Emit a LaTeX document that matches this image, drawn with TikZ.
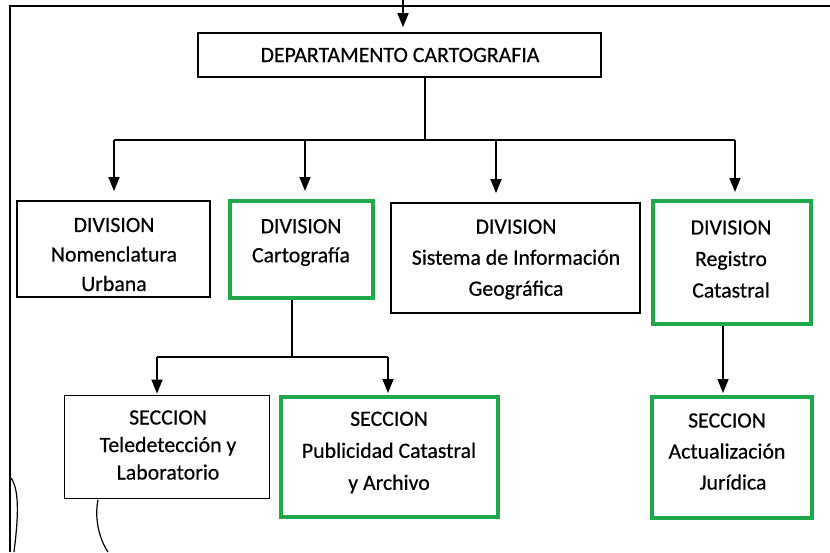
\documentclass[tikz,border=0pt]{standalone}
\usepackage{fontspec}
\setmainfont{Carlito}[FakeBold=0.5]
\usetikzlibrary{arrows.meta}
\definecolor{boxgreen}{RGB}{30,170,75}
\tikzset{
  gbox/.style={draw=boxgreen, line width=4pt, inner sep=0pt},
  bbox/.style={draw=black, line width=1.7pt, inner sep=0pt},
  txt/.style={align=center, font=\fontsize{21.8}{#1}\selectfont, inner sep=0pt},
  txt/.default=30.5,
  conn/.style={line width=1.5pt, -{Triangle[length=14pt,width=11pt]}},
  line/.style={line width=1.5pt},
  frame/.style={line width=1.5pt},
  scrib/.style={line width=1.2pt}
}
\begin{document}
\begin{tikzpicture}[x=1pt,y=-1pt]
\useasboundingbox (0,0) rectangle (830,552);
% frame
\draw[frame] (830,6) -- (10,6) -- (10,552);
\draw[scrib] (11,478) .. controls (20,490) and (18,520) .. (14,552);
\draw[scrib] (98,500) .. controls (94,520) and (100,540) .. (108,552);
% boxes
\node[bbox, minimum width=403pt, minimum height=44pt] (dep) at (399.5,55) {};
\node[txt] (depT) at (400,55) {DEPARTAMENTO CARTOGRAFIA};

\node[bbox, minimum width=193pt, minimum height=96pt] (nom) at (113.5,249) {};
\node[txt=29.5] (nomT) at (114,254.5) {DIVISION\\Nomenclatura\\Urbana};

\node[gbox, minimum width=143pt, minimum height=97pt] (car) at (301.5,249.5) {};
\node[txt=29] (carT) at (301,242.5) {DIVISION\\Cartografía};

\node[bbox, minimum width=249pt, minimum height=110pt] (sis) at (515.5,258) {};
\node[txt=31] (sisT) at (516,259.5) {DIVISION\\Sistema de Información\\Geográfica};

\node[gbox, minimum width=158pt, minimum height=123pt] (reg) at (732,262.5) {};
\node[txt=31.5] (regT) at (731,259) {DIVISION\\Registro\\Catastral};

\node[bbox, minimum width=205pt, minimum height=103pt] (tel) at (167,447) {};
\node[txt=27.5] (telT) at (168,445) {SECCION\\Teledetección y\\Laboratorio};

\node[gbox, minimum width=217pt, minimum height=120pt] (pub) at (389.5,457) {};
\node[txt=32] (pubT) at (389,452.5) {SECCION\\Publicidad Catastral\\y Archivo};

\node[gbox, minimum width=160pt, minimum height=121pt] (act) at (732,457.5) {};
\node[txt=31] (actT) at (727,451.5) {SECCION\\Actualización\\\hspace*{12pt}Jurídica};

% junction coordinates
\coordinate (topin) at (403,0);
\coordinate (h1) at (425,140);
\coordinate (j1) at (114,140);
\coordinate (j2) at (305,140);
\coordinate (j3) at (496,140);
\coordinate (j4) at (735,140);
\coordinate (h2) at (292,357);
\coordinate (k1) at (157,357);
\coordinate (k2) at (388,357);
\coordinate (r1) at (723,0);

% connectors
\draw[conn, shorten >=5pt] (topin) -- (topin |- dep.north);
\draw[line] (h1 |- dep.south) -- (h1);
\draw[line] (j1) -- (j4);
\draw[conn, shorten >=9pt] (j1) -- (j1 |- nom.north);
\draw[conn, shorten >=8pt] (j2) -- (j2 |- car.north);
\draw[conn, shorten >=9pt] (j3) -- (j3 |- sis.north);
\draw[conn, shorten >=7pt] (j4) -- (j4 |- reg.north);

\draw[line] (h2 |- car.south) -- (h2);
\draw[line] (k1) -- (k2);
\draw[conn, shorten >=1pt] (k1) -- (k1 |- tel.north);
\draw[conn, shorten >=2pt] (k2) -- (k2 |- pub.north);

\draw[conn, shorten >=2pt] (r1 |- reg.south) -- (r1 |- act.north);
\end{tikzpicture}
\end{document}
